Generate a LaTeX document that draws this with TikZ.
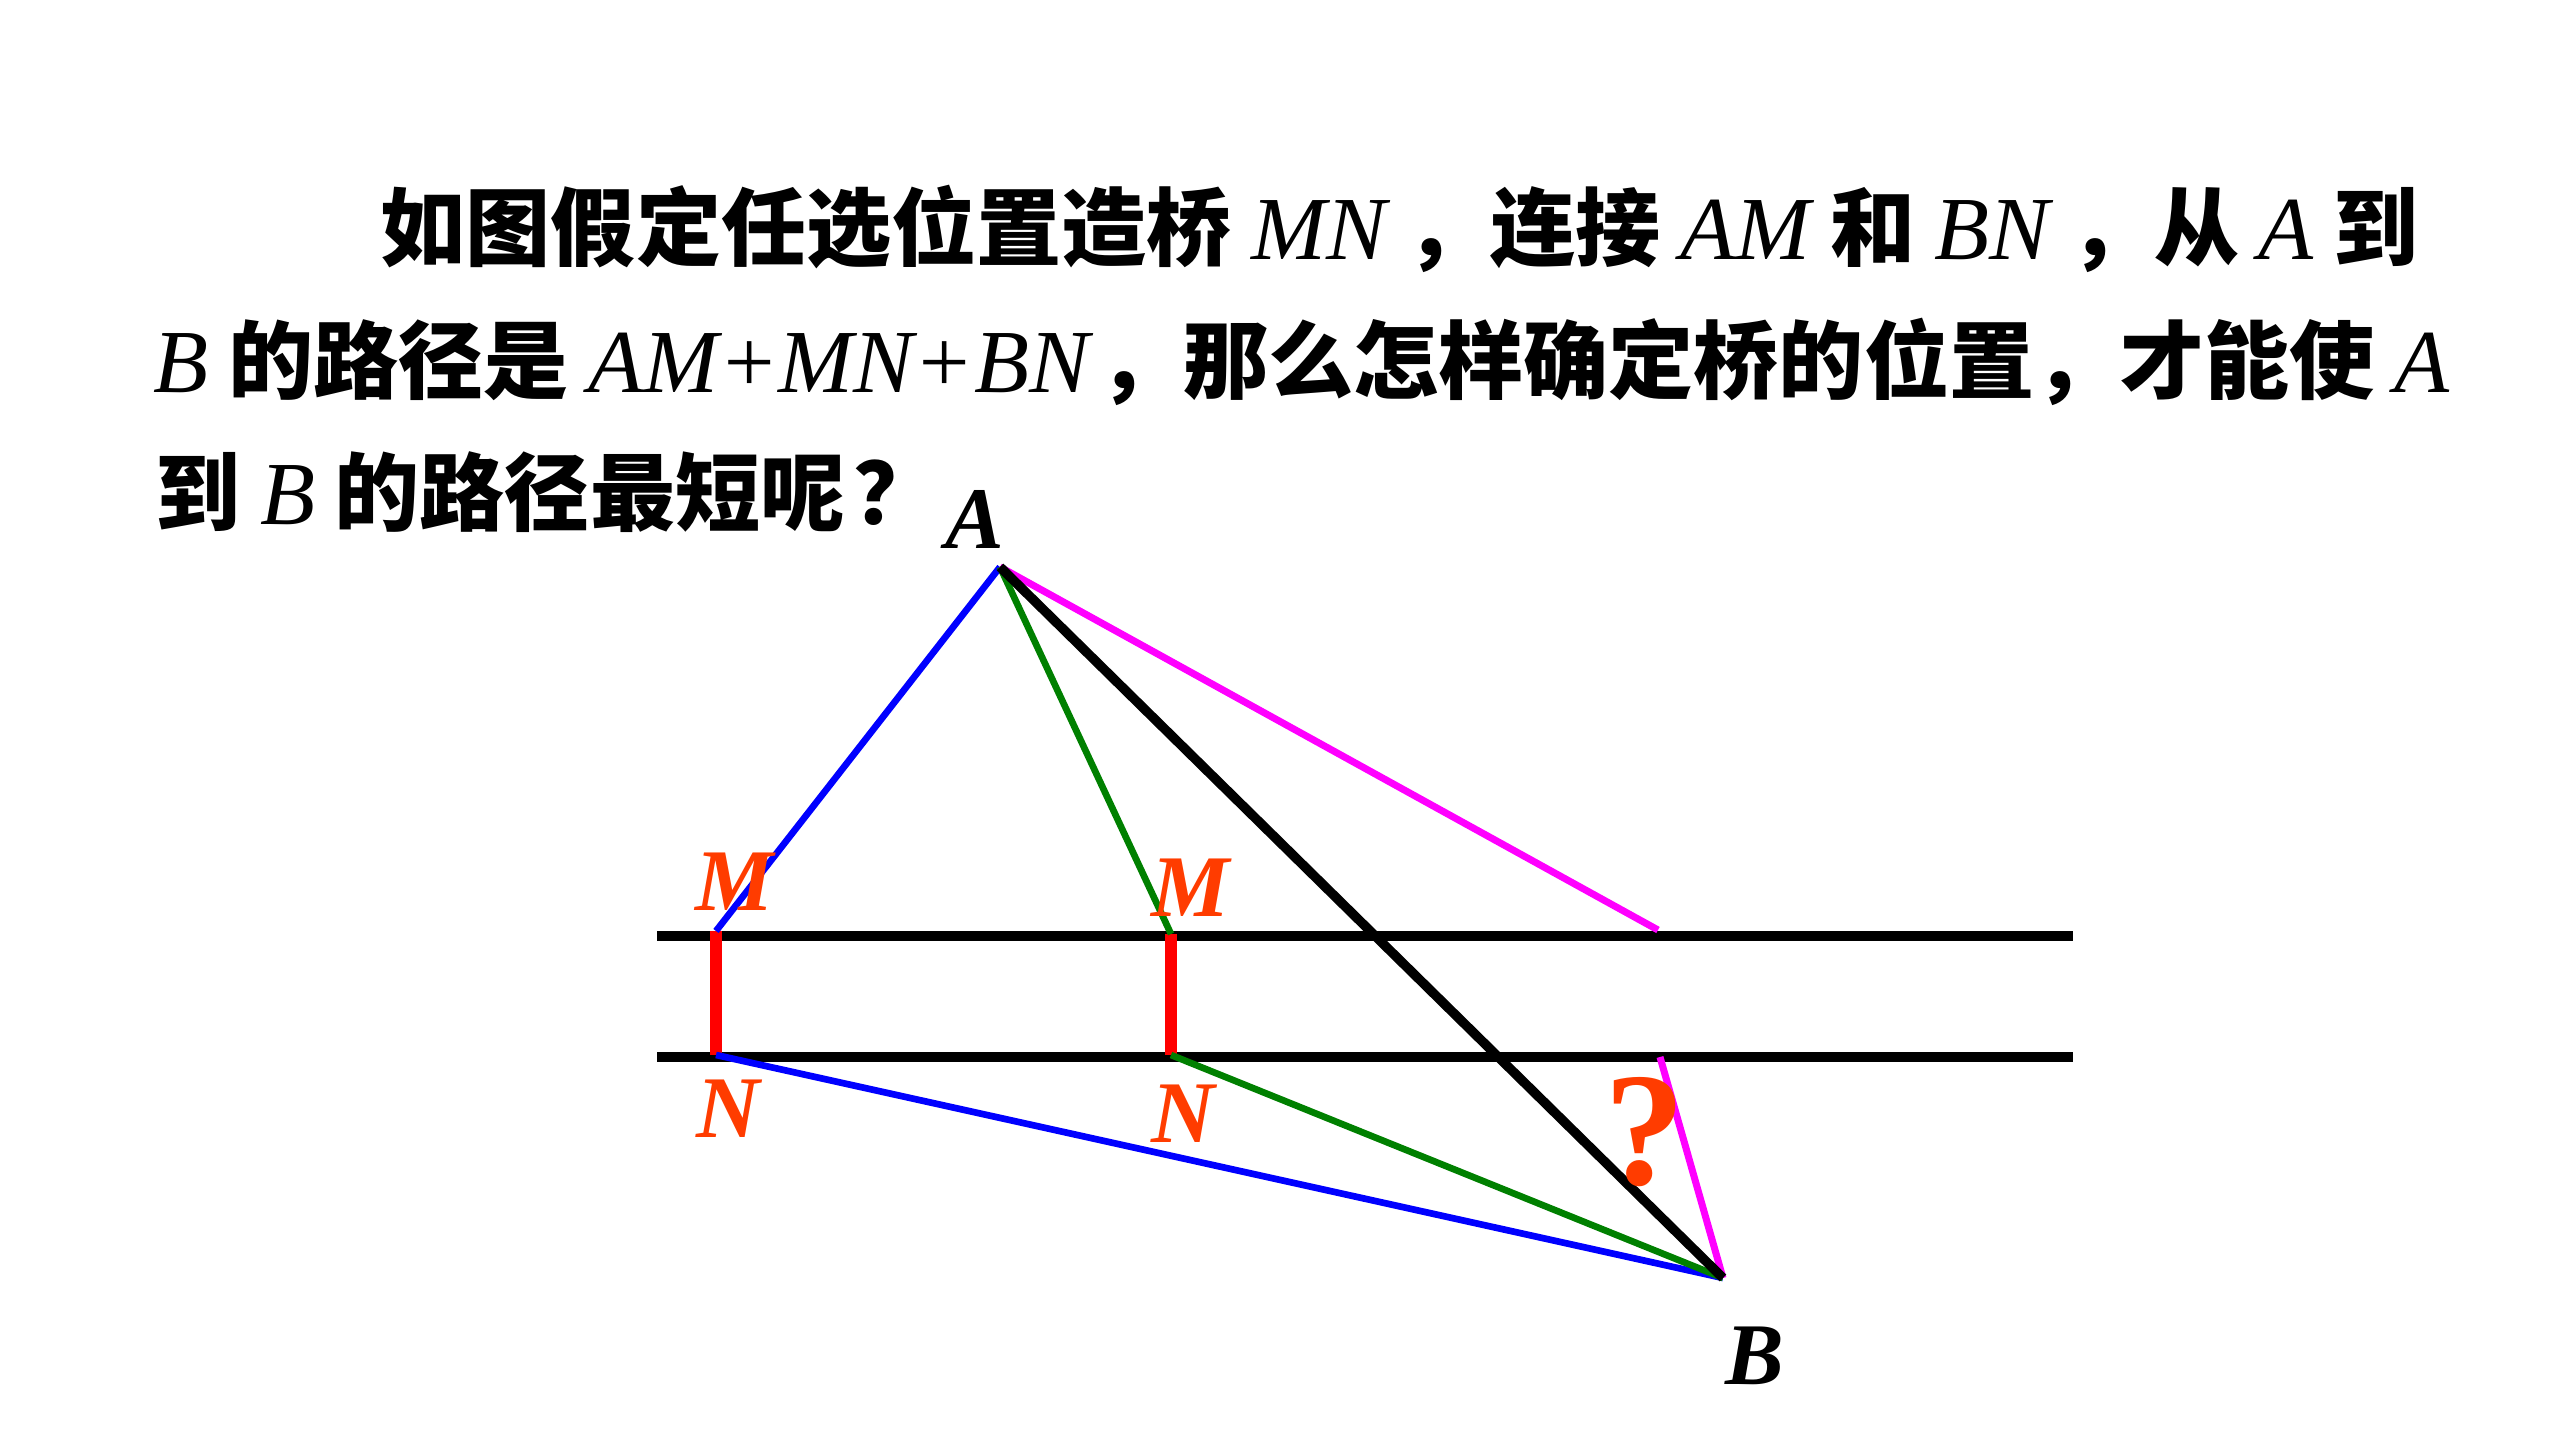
\documentclass[tikz,border=0pt]{standalone}
\usepackage{fontspec}
\setmainfont{Liberation Serif}
\newfontfamily\cjk{Noto Sans CJK SC}
\newcommand\latn[1]{{\rmfamily\mdseries\itshape\fontsize{25.6pt}{25.6pt}\selectfont #1}}
\definecolor{lblred}{RGB}{255,60,0}
\definecolor{brgred}{RGB}{255,0,0}
\definecolor{ln blue}{RGB}{0,0,255}
\definecolor{ln green}{RGB}{0,128,0}
\definecolor{ln mag}{RGB}{255,0,255}
\begin{document}
\begin{tikzpicture}[x=0.01cm,y=-0.01cm,
  txt/.style={anchor=base west,inner sep=0pt,font=\cjk\bfseries\fontsize{24.2pt}{24.2pt}\selectfont},
  ptlbl/.style={anchor=base,inner sep=0pt,font=\rmfamily\bfseries\itshape\fontsize{25pt}{25pt}\selectfont},
  mnlbl/.style={ptlbl,text=lblred},
  river/.style={line width=2.85pt,black},
  bridge/.style={line width=3.4pt,brgred},
  pathA/.style={line width=1.9pt,ln blue},
  pathB/.style={line width=1.9pt,ln green},
  pathC/.style={line width=2pt,ln mag},
  direct/.style={line width=2.7pt,black}]
\useasboundingbox (0,0) rectangle (2550,1434);
% text
\node[txt] (t1) at (380,260) {如图假定任选位置造桥 \latn{MN} ，连接 \latn{AM} 和 \latn{BN} ，从 \latn{A} 到};
\node[txt] (t2) at (153,393) {\latn{B} 的路径是 \latn{AM+MN+BN}\hspace{0.1em}，那么怎样确定桥的位置，才能使 \latn{A}};
\node[txt] (t3) at (155,525) {到 \latn{B} 的路径最短呢\hspace{0.1em}？};
% points
\coordinate (A) at (1000,567);
\coordinate (B) at (1723,1278);
\coordinate (L1) at (657,936);
\coordinate (R1) at (2073,936);
\coordinate (L2) at (657,1057);
\coordinate (R2) at (2073,1057);
\coordinate (M1) at (716,931);
\coordinate (N1) at (716,1055);
\coordinate (M2) at (1171,934);
\coordinate (N2) at (1171,1055);
\coordinate (P) at (1658,930);
\coordinate (Q) at (1660,1057);
% river
\draw[river] (L1) -- (R1);
\draw[river] (L2) -- (R2);
% bridges
\draw[bridge] (M1) -- (N1);
\draw[bridge] (M2) -- (N2);
% paths
\draw[pathA] (A) -- (M1);
\draw[pathA] (N1) -- (B);
\draw[pathB] (A) -- (M2);
\draw[pathB] (N2) -- (B);
\draw[pathC] (A) -- (P);
\draw[pathC] (Q) -- (B);
\draw[direct] (A) -- (B);
% labels
\node[ptlbl] (la) at (975,549) {A};
\node[ptlbl] (lb) at (1755,1385) {B};
\node[mnlbl] (lm1) at (735,911) {M};
\node[mnlbl] (lm2) at (1191,917) {M};
\node[mnlbl] (ln1) at (728,1138) {N};
\node[mnlbl] (ln2) at (1183,1143) {N};
\node[anchor=base,inner sep=0pt,text=lblred,font=\rmfamily\bfseries\fontsize{46pt}{46pt}\selectfont] (q) at (1645,1185) {?};
\end{tikzpicture}
\end{document}
